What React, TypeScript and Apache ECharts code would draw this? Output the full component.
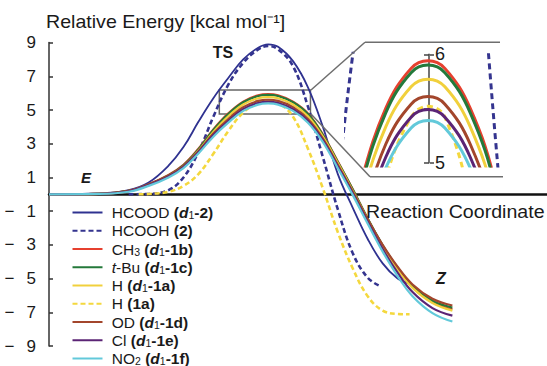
import React, { useEffect, useRef } from 'react';
import * as echarts from 'echarts';

const FONT = "'Liberation Sans', Arial, Helvetica, sans-serif";

// Reaction coordinate positions (arbitrary 0–100 scale)
const uColored = [0, 10, 16, 20, 24, 27, 30, 33, 36, 39, 42, 44, 46, 49, 52, 55, 58, 61, 64, 67, 70, 73, 77, 81];
const uHcood = [0, 10, 16, 20, 24, 27, 30, 33, 36, 39, 42, 44, 46, 49, 52, 55, 58, 61, 64, 67, 70, 72.4];
const uHcooh = [16, 20, 24, 27, 30, 33, 36, 39, 42, 44, 46, 49, 52, 55, 58, 61, 64, 66.5];
const uH1a = [18, 20, 24, 27, 30, 33, 36, 39, 42, 44, 46, 49, 52, 55, 58, 61, 64, 67, 70, 72.4];

// Relative energies (kcal/mol)
const hcood = [0, 0.05, 0.25, 0.7, 1.7, 2.8, 4.3, 5.7, 6.9, 8.0, 8.7, 8.9, 8.75, 7.9, 6.35, 4.0, 1.2, -0.8, -2.65, -4.1, -5.0, -5.3];
const hcooh = [0, 0.02, 0.25, 1.0, 2.5, 4.6, 6.5, 7.8, 8.6, 8.8, 8.6, 7.6, 5.2, 2.2, -0.9, -3.5, -4.95, -5.45];
const ch3 = [0, 0.03, 0.2, 0.6, 1.15, 1.75, 2.7, 3.85, 4.8, 5.5, 5.87, 5.94, 5.87, 5.5, 4.8, 3.55, 1.95, 0.3, -1.45, -3.05, -4.4, -5.5, -6.4, -6.82];
const tBu = [0, 0.03, 0.2, 0.58, 1.12, 1.72, 2.66, 3.81, 4.76, 5.46, 5.83, 5.9, 5.83, 5.46, 4.76, 3.52, 1.92, 0.28, -1.45, -3.02, -4.35, -5.43, -6.32, -6.72];
const hD1 = [0, 0.03, 0.18, 0.55, 1.08, 1.66, 2.58, 3.7, 4.63, 5.33, 5.7, 5.77, 5.7, 5.33, 4.63, 3.42, 1.85, 0.2, -1.52, -3.1, -4.45, -5.55, -6.45, -6.9];
const h1a = [0, 0.02, 0.15, 0.5, 1.2, 2.4, 3.75, 4.85, 5.42, 5.52, 5.42, 4.6, 2.7, 0.35, -2.25, -4.4, -6.05, -6.9, -7.1, -7.12];
const od = [0, 0.03, 0.2, 0.58, 1.1, 1.68, 2.55, 3.6, 4.47, 5.17, 5.54, 5.61, 5.54, 5.17, 4.47, 3.3, 1.75, 0.15, -1.5, -3.0, -4.3, -5.35, -6.2, -6.6];
const cl = [0, 0.03, 0.18, 0.55, 1.05, 1.62, 2.5, 3.52, 4.35, 5.05, 5.42, 5.49, 5.42, 5.05, 4.35, 3.2, 1.65, 0.05, -1.65, -3.25, -4.65, -5.8, -6.75, -7.2];
const no2 = [0, 0.02, 0.15, 0.5, 1.0, 1.55, 2.42, 3.42, 4.25, 4.95, 5.32, 5.39, 5.32, 4.95, 4.25, 3.1, 1.55, -0.05, -1.75, -3.4, -4.85, -6.05, -7.05, -7.55];

// Zoom window (reaction coordinate range, energy range)
const zoomU = [34.2, 52.5];
const zoomV = [6.19, 4.76];
const insetU = [34.3, 53.7];
const insetV = [4.97, 6.01];

const names = ['HCOOD (d1-2)', 'HCOOH (2)', 'CH3 (d1-1b)', 't-Bu (d1-1c)', 'H (d1-1a)', 'H (1a)', 'OD (d1-1d)', 'Cl (d1-1e)', 'NO2 (d1-1f)'];

const legendRich: Record<string, string> = {
  'HCOOD (d1-2)': '{r| HCOOD }{b|(}{i|d}{s|1}{b|-2)}',
  'HCOOH (2)': '{r| HCOOH }{b|(2)}',
  'CH3 (d1-1b)': '{r| CH}{s|3}{r| }{b|(}{i|d}{s|1}{b|-1b)}',
  't-Bu (d1-1c)': '{r| }{it|t}{r|-Bu }{b|(}{i|d}{s|1}{b|-1c)}',
  'H (d1-1a)': '{r| H }{b|(}{i|d}{s|1}{b|-1a)}',
  'H (1a)': '{r| H }{b|(1a)}',
  'OD (d1-1d)': '{r| OD }{b|(}{i|d}{s|1}{b|-1d)}',
  'Cl (d1-1e)': '{r| Cl }{b|(}{i|d}{s|1}{b|-1e)}',
  'NO2 (d1-1f)': '{r| NO}{s|2}{r| }{b|(}{i|d}{s|1}{b|-1f)}',
};

type Def = { name: string; u: number[]; v: number[]; color: string; dash: any; width: number; inset: boolean };
const defs: Def[] = [
  { name: names[0], u: uHcood, v: hcood, color: '#2f3290', dash: 'solid', width: 1.8, inset: false },
  { name: names[1], u: uHcooh, v: hcooh, color: '#34348f', dash: [5, 3], width: 2.6, inset: true },
  { name: names[2], u: uColored, v: ch3, color: '#e6402f', dash: 'solid', width: 2.2, inset: true },
  { name: names[3], u: uColored, v: tBu, color: '#24793a', dash: 'solid', width: 2.2, inset: true },
  { name: names[4], u: uColored, v: hD1, color: '#f1d03c', dash: 'solid', width: 2.2, inset: true },
  { name: names[5], u: uH1a, v: h1a, color: '#f4d83e', dash: [5, 3], width: 2.6, inset: true },
  { name: names[6], u: uColored, v: od, color: '#a3462c', dash: 'solid', width: 2.2, inset: true },
  { name: names[7], u: uColored, v: cl, color: '#5b2475', dash: 'solid', width: 2.2, inset: true },
  { name: names[8], u: uColored, v: no2, color: '#62c9da', dash: 'solid', width: 2.2, inset: true },
];

const zip = (u: number[], v: number[]) => u.map((x, i) => [x, v[i]]);

const gray = '#6e6e6e';

function buildOption(): any {
  const mainSeries = defs.map((d, idx) => {
    const s: any = {
      type: 'line',
      name: d.name,
      xAxisIndex: 0,
      yAxisIndex: 0,
      data: zip(d.u, d.v),
      smooth: 0.4,
      symbol: 'none',
      silent: true,
      emphasis: { disabled: true },
      lineStyle: { color: d.color, width: d.width, type: d.dash },
      itemStyle: { color: d.color },
      z: 3,
    };
    if (idx === 0) {
      s.markArea = {
        silent: true,
        label: { show: false },
        itemStyle: { color: 'rgba(0,0,0,0)', borderColor: '#666', borderWidth: 1.5 },
        data: [[{ coord: [zoomU[0], zoomV[0]] }, { coord: [zoomU[1], zoomV[1]] }]],
      };
    }
    return s;
  });
  const insetSeries = defs.filter((d) => d.inset).map((d) => ({
    type: 'line',
    name: 'zoom ' + d.name,
    xAxisIndex: 1,
    yAxisIndex: 1,
    data: zip(d.u, d.v),
    smooth: 0.4,
    symbol: 'none',
    silent: true,
    clip: true,
    emphasis: { disabled: true },
    lineStyle: { color: d.color, width: 3, type: d.dash === 'solid' ? 'solid' : [6, 4] },
    itemStyle: { color: d.color },
    z: 3,
  }));

  const txt = (text: string, x: number, y: number, font: string, align = 'left', extra: any = {}) => ({
    type: 'text',
    x,
    y,
    z: 10,
    silent: true,
    ...extra,
    style: {
      text,
      font,
      fill: '#1a1a1a',
      align,
      textAlign: align,
      verticalAlign: 'middle',
      textVerticalAlign: 'middle',
    },
  });
  const ln = (x1: number, y1: number, x2: number, y2: number) => ({
    type: 'line',
    silent: true,
    z: 5,
    shape: { x1, y1, x2, y2 },
    style: { stroke: gray, lineWidth: 1.5 },
  });

  const LF = 15.5;
  return {
    animation: false,
    backgroundColor: '#fff',
    textStyle: { fontFamily: FONT },
    grid: [
      { left: 49, right: 0, top: 42.6, bottom: 20, outerBoundsMode: 'none', containLabel: false },
      { left: 346, top: 53.2, width: 164, height: 112.7, outerBoundsMode: 'none', containLabel: false },
      { left: 429, top: 54.3, width: 1, height: 108.4, outerBoundsMode: 'none', containLabel: false },
    ],
    xAxis: [
      {
        type: 'value', gridIndex: 0, min: 0, max: 100,
        axisLine: { show: true, onZero: true, lineStyle: { color: '#111', width: 2.5 } },
        axisTick: { show: false }, axisLabel: { show: false }, splitLine: { show: false },
      },
      { type: 'value', gridIndex: 1, min: insetU[0], max: insetU[1], show: false },
      { type: 'value', gridIndex: 2, min: 0, max: 1, show: false },
    ],
    yAxis: [
      {
        type: 'value', gridIndex: 0, min: -9, max: 9, interval: 2,
        axisLine: { show: true, onZero: false, lineStyle: { color: '#333', width: 1.5 } },
        axisTick: { show: true, inside: true, length: 4, lineStyle: { color: '#333', width: 1.5 } },
        splitLine: { show: false },
        axisLabel: {
          margin: 13,
          color: '#1a1a1a',
          fontSize: 17,
          fontFamily: FONT,
          formatter: (v: number) => (v < 0 ? `{m|−}{d|${Math.abs(v)}}` : `{d|${v}}`),
          rich: {
            m: { width: 22, align: 'left', fontSize: 17, fontFamily: FONT, color: '#1a1a1a' },
            d: { fontSize: 17, fontFamily: FONT, color: '#1a1a1a' },
          },
        },
      },
      { type: 'value', gridIndex: 1, min: insetV[0], max: insetV[1], show: false },
      {
        type: 'value', gridIndex: 2, min: 5, max: 6, interval: 0.5, position: 'left',
        axisLine: { show: true, lineStyle: { color: '#444', width: 1.5 } },
        axisTick: { show: true, inside: false, length: 5, lineStyle: { color: '#444', width: 1.5 } },
        splitLine: { show: false },
        axisLabel: {
          inside: true, margin: 6, fontSize: 18, color: '#1a1a1a', fontFamily: FONT,
          formatter: (v: number) => (v === 5 || v === 6 ? String(v) : ''),
        },
      },
      {
        type: 'value', gridIndex: 2, min: 5, max: 6, interval: 1, position: 'right',
        axisLine: { show: false },
        axisTick: { show: true, inside: false, length: 4, lineStyle: { color: '#444', width: 1.5 } },
        axisLabel: { show: false },
        splitLine: { show: false },
      },
    ],
    legend: {
      data: names,
      orient: 'vertical',
      left: 71.5,
      top: 204.5,
      height: 180,
      padding: 0,
      itemWidth: 30,
      itemHeight: 12,
      itemGap: 2.25,
      selectedMode: false,
      itemStyle: { opacity: 0 },
      formatter: (n: string) => legendRich[n] || n,
      textStyle: {
        fontFamily: FONT,
        fontSize: LF,
        color: '#1a1a1a',
        lineHeight: 16,
        rich: {
          r: { fontSize: LF, lineHeight: 16, fontFamily: FONT, color: '#1a1a1a' },
          b: { fontSize: LF, lineHeight: 16, fontWeight: 'bold', fontFamily: FONT, color: '#1a1a1a' },
          i: { fontSize: LF, lineHeight: 16, fontWeight: 'bold', fontStyle: 'italic', fontFamily: FONT, color: '#1a1a1a' },
          it: { fontSize: LF, lineHeight: 16, fontStyle: 'italic', fontFamily: FONT, color: '#1a1a1a' },
          s: { fontSize: 10.5, lineHeight: 6, verticalAlign: 'bottom', fontFamily: FONT, color: '#1a1a1a' },
        },
      },
    },
    graphic: [
      ln(311, 90, 365, 42.3),
      ln(311, 114, 370, 176.7),
      ln(365, 42.3, 500, 42.3),
      ln(370, 176.7, 503, 176.7),
      txt('Relative Energy [kcal mol⁻¹]', 46, 21.5, `18.5px ${FONT}`, 'left', { scaleX: 1.06 }),
      txt('Reaction Coordinate', 366, 212, `17.5px ${FONT}`, 'left', { scaleX: 1.12 }),
      txt('TS', 223, 52.5, `bold 16px ${FONT}`, 'center'),
      txt('E', 86, 177, `italic bold 15px ${FONT}`, 'center'),
      txt('Z', 441, 278, `italic bold 16px ${FONT}`, 'center'),
    ],
    series: [...mainSeries, ...insetSeries],
  };
}

export default function App() {
  const ref = useRef<HTMLDivElement>(null);
  useEffect(() => {
    if (!ref.current) return;
    const chart = echarts.init(ref.current, null, { renderer: 'svg' });
    chart.setOption(buildOption());
    return () => chart.dispose();
  }, []);
  return (
    <div
      ref={ref}
      style={{ position: 'fixed', left: 0, top: 0, width: 547, height: 366, background: '#fff' }}
    />
  );
}
